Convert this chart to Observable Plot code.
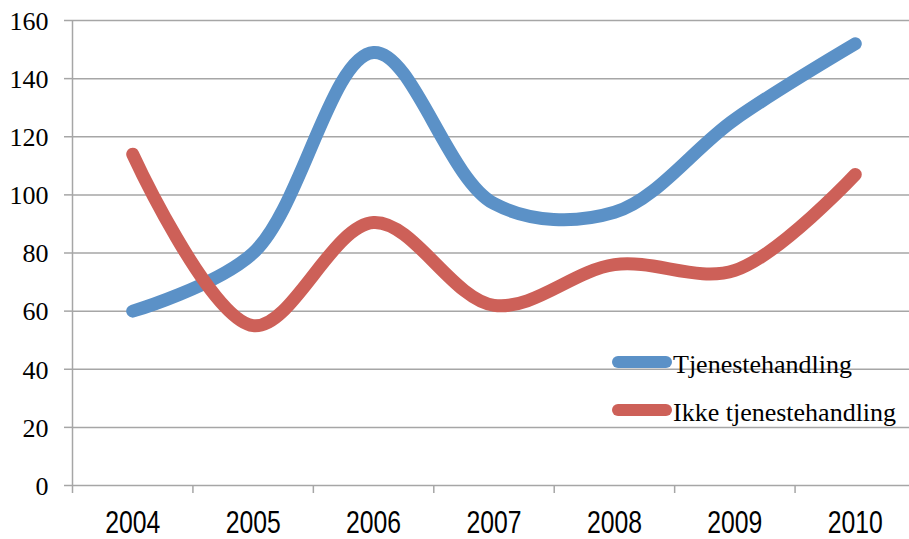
<!DOCTYPE html>
<html><head><meta charset="utf-8">
<script src="https://cdn.jsdelivr.net/npm/d3@7"></script>
<script src="https://cdn.jsdelivr.net/npm/@observablehq/plot@0.6"></script>
<style>body{margin:0;background:#fff}#chart svg{overflow:visible}</style>
</head><body><div id="chart"></div>
<script>
const years = [2004, 2005, 2006, 2007, 2008, 2009, 2010];
const tjenestehandling = [60, 80, 149, 97, 94, 126, 152];
const ikkeTjenestehandling = [114, 55, 90.5, 62, 76, 74, 107];
const seriesNames = ["Tjenestehandling", "Ikke tjenestehandling"];
const seriesColors = ["#5B91C7", "#CD6058"];
const yTicks = [0, 20, 40, 60, 80, 100, 120, 140, 160];
const xBoundaries = [2003.5, 2004.5, 2005.5, 2006.5, 2007.5, 2008.5, 2009.5, 2010.5];

const data = [];
years.forEach((y, i) => data.push({year: y, value: tjenestehandling[i], series: seriesNames[0]}));
years.forEach((y, i) => data.push({year: y, value: ikkeTjenestehandling[i], series: seriesNames[1]}));

const gridColor = "#a6a6a6";
const serif = "Liberation Serif";
const sans = "Liberation Sans";

const legend = () => {
  const g = d3.create("svg:g");
  seriesNames.forEach((name, i) => {
    const y = 362 + i * 48;
    g.append("line").attr("x1", 618).attr("x2", 666).attr("y1", y).attr("y2", y)
      .attr("stroke", seriesColors[i]).attr("stroke-width", 12).attr("stroke-linecap", "round");
    g.append("text").attr("x", 673).attr("y", y + 11)
      .attr("text-anchor", "start")
      .style("font-family", serif)
      .style("font-size", "26px").attr("fill", "black").text(name);
  });
  return g.node();
};

const chart = Plot.plot({
  width: 909,
  height: 539,
  marginTop: 20,
  marginBottom: 54,
  marginLeft: 72,
  marginRight: -6,
  style: {background: "white", overflow: "visible"},
  x: {type: "linear", domain: [2003.5, 2010.5], axis: null},
  y: {domain: [0, 160], axis: null},
  color: {domain: seriesNames, range: seriesColors},
  marks: [
    Plot.ruleY(yTicks, {stroke: gridColor, strokeWidth: 1.5}),
    Plot.ruleX([2003.5], {stroke: gridColor, strokeWidth: 1.5}),
    Plot.tickY(yTicks, {y: d => d, frameAnchor: "left", stroke: gridColor, strokeWidth: 1.5}),
    Plot.text(yTicks, {y: d => d, text: d => String(d), frameAnchor: "left", dx: -24, dy: 1,
      textAnchor: "end", fontFamily: serif, fontSize: 26, fill: "black"}),
    Plot.tickX(xBoundaries, {x: d => d, y1: 0, stroke: gridColor, strokeWidth: 1.5}),
    Plot.text(years, {x: d => d, text: d => String(d), frameAnchor: "bottom", dy: 25,
      lineAnchor: "top", fontFamily: sans, fontSize: 31, fill: "black", className: "xlab"}),
    Plot.line(data, {x: "year", y: "value", z: "series", stroke: "series",
      curve: "catmull-rom", strokeWidth: 13, strokeLinecap: "round", strokeLinejoin: "round"}),
    legend
  ]
});
const sel = d3.select(chart);
// short tick stubs: left of the y axis and below the x axis
sel.selectAll("g[aria-label='tick'] line").each(function() {
  const l = d3.select(this);
  if (l.attr("x1") !== null && l.attr("x1") === l.attr("x2")) {
    const yb = Math.max(+l.attr("y1"), +l.attr("y2"));
    l.attr("y1", yb).attr("y2", yb + 8);
  } else {
    l.attr("x1", 64).attr("x2", 72);
  }
});
sel.selectAll(".xlab text, g.xlab text").attr("textLength", 55).attr("lengthAdjust", "spacingAndGlyphs");
document.getElementById("chart").append(chart);
</script>
</body></html>
